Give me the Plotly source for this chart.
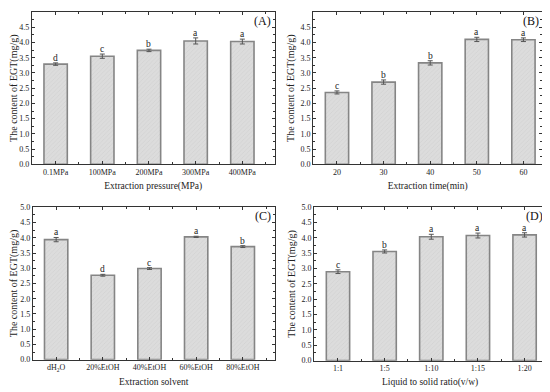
import plotly.graph_objects as go

# ---- data ----
cats_a = ["0.1MPa", "100MPa", "200MPa", "300MPa", "400MPa"]
vals_a = [3.29, 3.55, 3.74, 4.05, 4.03]
err_a = [0.04, 0.07, 0.04, 0.10, 0.08]
sig_a = ["d", "c", "b", "a", "a"]

cats_b = ["20", "30", "40", "50", "60"]
vals_b = [2.36, 2.70, 3.33, 4.10, 4.09]
err_b = [0.05, 0.07, 0.07, 0.07, 0.06]
sig_b = ["c", "b", "b", "a", "a"]

cats_c = ["dH<sub>2</sub>O", "20%EtOH", "40%EtOH", "60%EtOH", "80%EtOH"]
vals_c = [3.94, 2.77, 2.99, 4.03, 3.71]
err_c = [0.07, 0.03, 0.03, 0.02, 0.03]
sig_c = ["a", "d", "c", "a", "b"]

cats_d = ["1:1", "1:5", "1:10", "1:15", "1:20"]
vals_d = [2.90, 3.56, 4.04, 4.08, 4.10]
err_d = [0.06, 0.05, 0.08, 0.08, 0.07]
sig_d = ["c", "b", "a", "a", "a"]

W, H, OFF = 542, 384, 8  # page has an 8px body margin


def clamp(v):
    return max(0.0, min(1.0, v))


def dx(a, b):
    return [clamp((a - OFF) / W), clamp((b - OFF) / W)]


def dy(top, bot):
    return [clamp(1 - (bot - OFF) / H), clamp(1 - (top - OFF) / H)]


panels = [
    dict(cats=cats_a, vals=vals_a, err=err_a, sig=sig_a, label="(A)",
         xtitle="Extraction pressure(MPa)", xr=[-0.51, 4.69],
         dom_x=dx(27, 272), dom_y=dy(8, 164)),
    dict(cats=cats_b, vals=vals_b, err=err_b, sig=sig_b, label="(B)",
         xtitle="Extraction time(min)", xr=[-0.51, 4.40],
         dom_x=dx(311, 542), dom_y=dy(8, 164)),
    dict(cats=cats_c, vals=vals_c, err=err_c, sig=sig_c, label="(C)",
         xtitle="Extraction solvent", xr=[-0.50, 4.68],
         dom_x=dx(28, 272), dom_y=dy(208, 364)),
    dict(cats=cats_d, vals=vals_d, err=err_d, sig=sig_d, label="(D)",
         xtitle="Liquid to solid ratio(v/w)", xr=[-0.51, 4.46],
         dom_x=dx(312, 546), dom_y=dy(208, 365)),
]

FONT = "Liberation Serif"
fig = go.Figure()
annotations = []

for i, p in enumerate(panels, start=1):
    xa = "x" if i == 1 else f"x{i}"
    ya = "y" if i == 1 else f"y{i}"
    xs = list(range(len(p["cats"])))
    fig.add_trace(go.Bar(
        x=xs, y=p["vals"], xaxis=xa, yaxis=ya, width=0.5,
        marker=dict(color="#d8d8d8", line=dict(color="#858585", width=1.6),
                    pattern=dict(shape="/", fgcolor="#c8c8c8", bgcolor="#dcdcdc",
                                 size=3, solidity=0.25)),
        error_y=dict(type="data", array=p["err"], color="#555555",
                     thickness=1, width=2.5),
        showlegend=False, hoverinfo="skip",
    ))
    for x, v, e, s in zip(xs, p["vals"], p["err"], p["sig"]):
        annotations.append(dict(x=x, y=v + e, xref=xa, yref=ya, text=s,
                                showarrow=False, yanchor="bottom", yshift=-1,
                                borderpad=0,
                                font=dict(family=FONT, size=9.5, color="#222")))
    annotations.append(dict(x=0.99, y=1.0, xref=f"{xa} domain", yref=f"{ya} domain",
                            text=p["label"], showarrow=False, xanchor="right",
                            yanchor="top", borderpad=0, yshift=-1,
                            font=dict(family=FONT, size=12, color="#111")))
    axis_common = dict(showline=True, linecolor="#333333", linewidth=1, mirror="ticks",
                       ticks="inside", ticklen=3, tickcolor="#333333",
                       tickfont=dict(family=FONT, size=8, color="#222"),
                       showgrid=False, zeroline=False)
    fig.layout[f"xaxis{'' if i == 1 else i}"] = dict(
        axis_common, domain=p["dom_x"], anchor=ya, range=p["xr"],
        tickmode="array", tickvals=xs, ticktext=p["cats"],
        minor=dict(ticks="inside", ticklen=2, tick0=0.5, dtick=1, tickcolor="#333333"),
        title=dict(text=p["xtitle"], font=dict(family=FONT, size=9.5, color="#222"),
                   standoff=6),
    )
    fig.layout[f"yaxis{'' if i == 1 else i}"] = dict(
        axis_common, domain=p["dom_y"], anchor=xa, range=[0, 5],
        dtick=0.5, tickformat=".1f",
        minor=dict(ticks="inside", ticklen=2, dtick=0.25, tickcolor="#333333"),
        title=dict(text="The content of EGT(mg/g)",
                   font=dict(family=FONT, size=10, color="#222"), standoff=4),
    )

fig.update_layout(width=W, height=H, margin=dict(l=0, r=0, t=0, b=0),
                  plot_bgcolor="white", paper_bgcolor="white",
                  annotations=annotations, bargap=0.5)
fig.write_html("out.html")
